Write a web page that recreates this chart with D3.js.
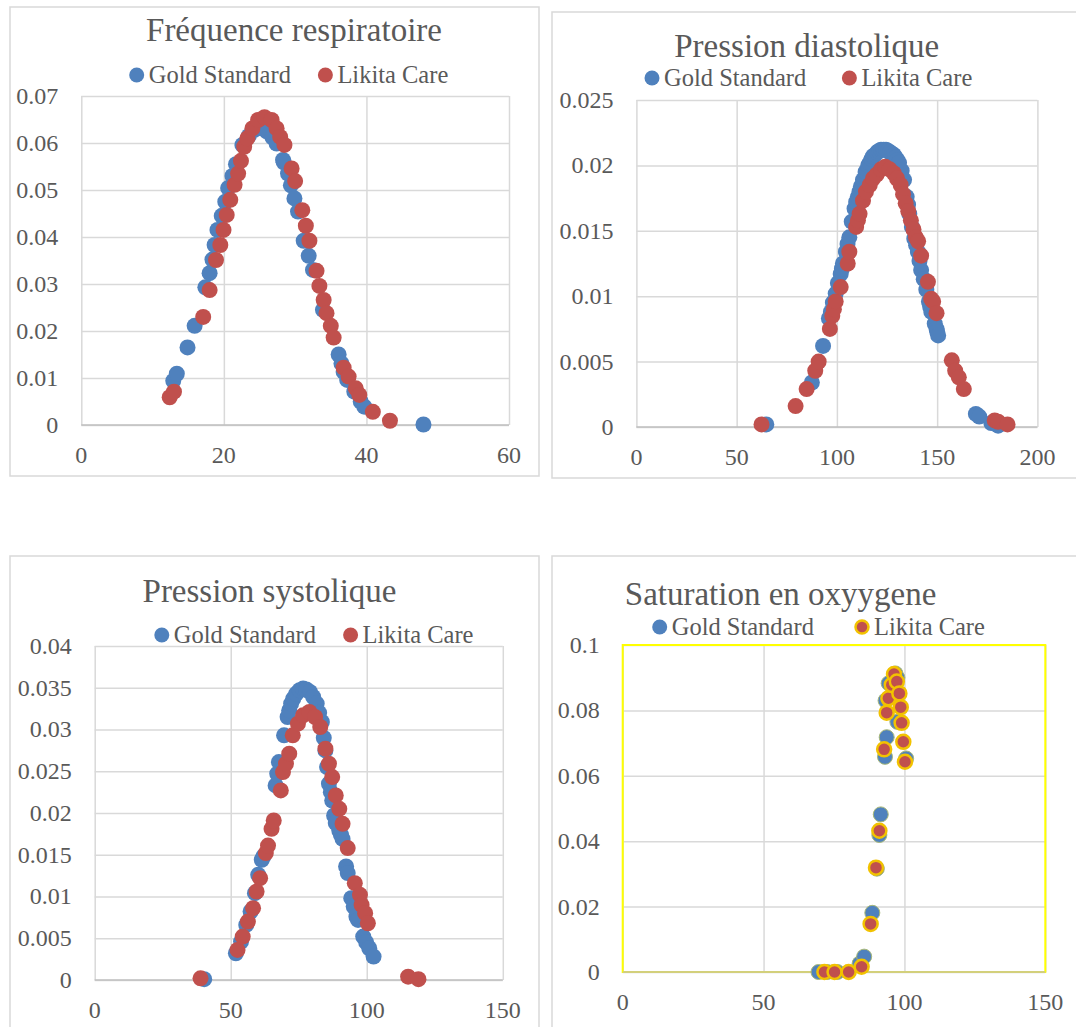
<!DOCTYPE html>
<html>
<head>
<meta charset="utf-8">
<script src="https://cdn.jsdelivr.net/npm/d3@7"></script>
<style>
  body { margin: 0; background: #fff; }
  text { font-family: "Liberation Serif", "DejaVu Serif", serif; fill: #595959; }
</style>
</head>
<body>
<svg width="1076" height="1027"></svg>
<script>
// values: [x, density]
var freqGold = [[12.9,0.0094],[13.4,0.0109],[14.9,0.0165],[15.9,0.0211],[17.4,0.0293],[18.0,0.0323],[18.4,0.0352],[18.7,0.0383],[19.1,0.0415],[19.7,0.0445],[20.2,0.0475],[20.6,0.0504],[21.2,0.053],[21.7,0.0555],[22.6,0.0596],[23.5,0.0615],[24.3,0.0628],[25.2,0.0632],[25.5,0.0631],[26.0,0.0625],[26.8,0.0612],[27.4,0.0599],[28.3,0.0564],[28.4,0.0559],[29.0,0.0535],[29.4,0.051],[29.9,0.0482],[30.4,0.0454],[31.2,0.0392],[31.9,0.036],[32.5,0.033],[33.9,0.0245],[36.1,0.015],[36.5,0.0131],[36.8,0.0113],[37.3,0.0096],[38.3,0.0071],[39.2,0.005],[39.7,0.0039],[48.0,0.0001]];
var freqLikita = [[12.4,0.0059],[13.0,0.0071],[17.1,0.023],[18.0,0.0287],[18.9,0.0351],[19.5,0.0383],[19.95,0.0415],[20.4,0.0447],[20.9,0.0479],[21.5,0.0511],[22.0,0.0535],[22.4,0.0562],[22.85,0.0592],[23.3,0.061],[24.0,0.0631],[24.8,0.0649],[25.7,0.0655],[26.7,0.0649],[27.4,0.0631],[27.9,0.0613],[28.5,0.0596],[29.5,0.0546],[30.0,0.0519],[31.0,0.0457],[31.5,0.0424],[32.0,0.0392],[33.0,0.0328],[33.4,0.0296],[34.0,0.0266],[34.4,0.0238],[35.0,0.0211],[35.4,0.0186],[36.8,0.0122],[37.5,0.0103],[38.5,0.0078],[39.0,0.0064],[40.9,0.0028],[43.3,0.0009]];

var diasGold = [[64.8,0.0002],[87.5,0.0034],[93.1,0.0062],[96,0.0083],[97,0.0088],[98,0.0095],[99.4,0.0102],[100.5,0.011],[101.9,0.0117],[102.5,0.0121],[103,0.0125],[104.5,0.0134],[105.3,0.014],[106.2,0.0145],[107.4,0.0157],[108.8,0.0167],[109.6,0.0172],[110.5,0.0176],[111.3,0.018],[112,0.0184],[113,0.0189],[114.3,0.0195],[115.6,0.02],[116.4,0.0202],[117.3,0.0205],[118,0.0207],[119,0.0208],[120,0.021],[121,0.0211],[122,0.0212],[123.3,0.0212],[124.5,0.0212],[125.5,0.0211],[126.5,0.021],[127.5,0.0209],[128.4,0.0208],[129.3,0.0206],[130.2,0.0204],[131,0.0202],[132.3,0.0196],[133.5,0.0189],[134.8,0.0176],[135.5,0.017],[136.1,0.0163],[137.4,0.0153],[138.6,0.0144],[139.5,0.0139],[140.4,0.0134],[141.2,0.0127],[142,0.012],[143.3,0.0113],[144.6,0.0105],[145.9,0.0096],[146.5,0.0092],[147.1,0.0088],[148.8,0.0079],[149.7,0.0075],[150,0.0073],[150.5,0.007],[169.3,0.001],[171,0.0008],[177,0.0003],[180.4,0.0001]];
var diasLikita = [[62.4,0.0002],[79.4,0.0016],[84.9,0.0029],[89.2,0.0043],[90.9,0.005],[96.5,0.0075],[97.7,0.0085],[98.5,0.009],[99.4,0.0096],[101.9,0.0107],[105.4,0.0125],[106.2,0.0134],[109.6,0.0153],[110.5,0.0158],[111.3,0.0163],[113,0.0173],[114.5,0.018],[116.4,0.0185],[118,0.019],[119.8,0.0193],[122,0.0197],[124.1,0.0199],[126.3,0.0197],[128.4,0.0194],[130,0.019],[131.8,0.0185],[133,0.0178],[134.3,0.0171],[135.6,0.0165],[136.9,0.0158],[138.2,0.0151],[139.4,0.0145],[140.5,0.0142],[142,0.0131],[145.4,0.0111],[147,0.0098],[148,0.0096],[149.7,0.0087],[157.3,0.0051],[159,0.0043],[160.8,0.0038],[163.3,0.0029],[178.7,0.0005],[180.4,0.0004],[185.1,0.0002]];

var sysGold = [[40.25,0.0001],[51.9,0.0032],[53.8,0.0046],[55.7,0.0066],[57.3,0.0082],[58.9,0.0104],[60.1,0.0126],[61.4,0.0144],[62.0,0.0148],[66.5,0.0233],[67.1,0.0247],[67.7,0.0261],[69.6,0.0293],[70.9,0.0315],[71.5,0.0323],[72.2,0.0331],[73.0,0.0337],[74.1,0.0343],[75.3,0.0347],[76.6,0.0349],[77.8,0.0348],[79.1,0.0345],[80.3,0.0339],[81.6,0.0331],[82.5,0.032],[83.5,0.0309],[84.2,0.029],[84.8,0.0275],[85.4,0.0255],[86.1,0.0235],[86.8,0.0225],[87.3,0.0215],[88.0,0.0197],[88.6,0.0188],[89.9,0.0179],[90.5,0.0174],[91.1,0.0169],[92.4,0.0136],[93.0,0.0128],[94.3,0.0098],[95.2,0.0088],[96.2,0.0076],[96.8,0.0072],[98.7,0.0052],[99.8,0.0045],[100.9,0.0038],[102.5,0.0028]];
var sysLikita = [[38.9,0.0002],[52.5,0.0036],[54.4,0.0052],[56.3,0.007],[58.2,0.0086],[59.5,0.0106],[60.8,0.0122],[62.9,0.0152],[63.7,0.0161],[65.0,0.0181],[65.8,0.0191],[68.4,0.0227],[69.2,0.0249],[70.3,0.0259],[71.5,0.0271],[72.8,0.0293],[74.7,0.0307],[76.6,0.0317],[78.9,0.0321],[81.0,0.0315],[82.9,0.0303],[84.8,0.0277],[86.1,0.0259],[87.3,0.0243],[88.6,0.0221],[89.9,0.0205],[91.1,0.0187],[93.0,0.0158],[95.6,0.0116],[97.5,0.0102],[98.1,0.009],[99.4,0.008],[100.4,0.0068],[115.2,0.0004],[119.0,0.0001]];

var oxyGold = [[69.5,0],[72.6,0],[76.2,0],[84.1,0.0026],[85.7,0.0047],[88.6,0.0181],[90.2,0.0316],[91.1,0.0419],[91.6,0.0482],[93.1,0.0658],[93.7,0.0718],[93.3,0.083],[94.4,0.0883],[96.8,0.0913],[97.5,0.09],[97.5,0.0765],[100.6,0.0653]];
var oxyLikita = [[71.6,0],[75.2,0],[80.2,0],[84.8,0.0016],[88.0,0.0147],[89.9,0.0319],[91.1,0.0432],[92.8,0.0681],[93.7,0.0793],[94.3,0.0837],[95.5,0.0878],[96.3,0.0911],[97.3,0.0888],[98.2,0.0852],[98.7,0.081],[99.0,0.0762],[99.6,0.0704],[100.2,0.0643]];

var seriesNames = ["Gold Standard", "Likita Care"];
var titles = ["Fréquence respiratoire", "Pression diastolique", "Pression systolique", "Saturation en oxyygene"];

var freqXTicks = [0, 20, 40, 60], freqYTicks = [0, 0.01, 0.02, 0.03, 0.04, 0.05, 0.06, 0.07];
var diasXTicks = [0, 50, 100, 150, 200], diasYTicks = [0, 0.005, 0.01, 0.015, 0.02, 0.025];
var sysXTicks = [0, 50, 100, 150], sysYTicks = [0, 0.005, 0.01, 0.015, 0.02, 0.025, 0.03, 0.035, 0.04];
var oxyXTicks = [0, 50, 100, 150], oxyYTicks = [0, 0.02, 0.04, 0.06, 0.08, 0.1];

var blue = "#4f81bd", red = "#c0504d";
var svg = d3.select("svg");

function panel(p) {
  var g = svg.append("g");
  g.append("rect").attr("x", p.box[0]).attr("y", p.box[1])
    .attr("width", p.box[2]).attr("height", p.box[3])
    .attr("fill", "#fff").attr("stroke", "#d9d9d9").attr("stroke-width", 1.5);

  var x = d3.scaleLinear().domain([p.xt[0], p.xt[p.xt.length - 1]]).range([p.left, p.right]);
  var y = d3.scaleLinear().domain([0, p.yt[p.yt.length - 1]]).range([p.bottom, p.top]);

  // gridlines
  g.append("g").attr("transform", "translate(0," + p.bottom + ")")
    .call(d3.axisBottom(x).tickValues(p.xt).tickSize(p.top - p.bottom).tickFormat(""))
    .call(s => s.select(".domain").remove())
    .selectAll("line").attr("stroke", "#d9d9d9").attr("stroke-width", 1.5);
  g.append("g").attr("transform", "translate(" + p.left + ",0)")
    .call(d3.axisLeft(y).tickValues(p.yt).tickSize(p.left - p.right).tickFormat(""))
    .call(s => s.select(".domain").remove())
    .selectAll("line").attr("stroke", "#d9d9d9").attr("stroke-width", 1.5);

  if (p.yellow) {
    g.append("rect").attr("x", p.left).attr("y", p.top)
      .attr("width", p.right - p.left).attr("height", p.bottom - p.top)
      .attr("fill", "none").attr("stroke", "#ffff00").attr("stroke-width", 2);
  }
  g.append("line").attr("x1", p.left).attr("x2", p.right)
    .attr("y1", p.bottom).attr("y2", p.bottom)
    .attr("stroke", p.yellow ? "#c4c1a4" : "#bfbfbf").attr("stroke-width", 1.5);

  // tick labels
  g.selectAll(".xl").data(p.xt).enter().append("text")
    .attr("x", d => x(d)).attr("y", p.xBase)
    .attr("text-anchor", "middle").attr("font-size", 24).text(d => d);
  g.selectAll(".yl").data(p.yt).enter().append("text")
    .attr("x", p.left - 23).attr("y", d => y(d)).attr("dy", "0.33em")
    .attr("text-anchor", "end").attr("font-size", 24).text(d => +d.toFixed(3));

  // markers
  var r = 8;
  g.append("g").selectAll("circle").data(p.gold).enter().append("circle")
    .attr("cx", d => x(d[0])).attr("cy", d => y(d[1])).attr("r", p.yellow ? 7.5 : r)
    .attr("fill", blue)
    .attr("stroke", p.yellow ? "#a8b878" : "none").attr("stroke-width", p.yellow ? 1 : 0);
  g.append("g").selectAll("circle").data(p.likita).enter().append("circle")
    .attr("cx", d => x(d[0])).attr("cy", d => y(d[1])).attr("r", p.yellow ? 7 : r)
    .attr("fill", red)
    .attr("stroke", p.yellow ? "#f2c200" : "none").attr("stroke-width", p.yellow ? 2.5 : 0);

  // title
  g.append("text").attr("x", p.titleX).attr("y", p.titleY)
    .attr("text-anchor", p.titleAnchor).attr("font-size", 33).text(p.title);

  // legend
  var leg = [[p.leg[0], blue], [p.leg[1], red]];
  leg.forEach(function(l, i) {
    g.append("circle").attr("cx", l[0]).attr("cy", p.legY).attr("r", i == 1 && p.yellow ? 6.5 : 7.5)
      .attr("fill", l[1])
      .attr("stroke", i == 1 && p.yellow ? "#f2c200" : "none").attr("stroke-width", 2.5);
    g.append("text").attr("x", l[0] + 12).attr("y", p.legY).attr("dy", "0.34em")
      .attr("font-size", 24.5).text(seriesNames[i]);
  });
}

panel({box: [10, 7, 529, 469], left: 81.3, right: 509, top: 96, bottom: 425,
  xt: freqXTicks, yt: freqYTicks, gold: freqGold, likita: freqLikita, xBase: 463,
  title: titles[0], titleX: 294, titleY: 41, titleAnchor: "middle", leg: [136.7, 325.4], legY: 75});
panel({box: [552, 12, 540, 466], left: 636.4, right: 1037.4, top: 100, bottom: 427,
  xt: diasXTicks, yt: diasYTicks, gold: diasGold, likita: diasLikita, xBase: 465,
  title: titles[1], titleX: 806.7, titleY: 57, titleAnchor: "middle", leg: [652, 849.4], legY: 78});
panel({box: [10, 556, 529, 490], left: 94.7, right: 502.8, top: 646, bottom: 980,
  xt: sysXTicks, yt: sysYTicks, gold: sysGold, likita: sysLikita, xBase: 1018,
  title: titles[2], titleX: 269.5, titleY: 602, titleAnchor: "middle", leg: [161.8, 350.6], legY: 635});
panel({box: [552, 556, 540, 490], left: 622.7, right: 1045.3, top: 645, bottom: 972,
  xt: oxyXTicks, yt: oxyYTicks, gold: oxyGold, likita: oxyLikita, xBase: 1010, yellow: true,
  title: titles[3], titleX: 624.8, titleY: 605, titleAnchor: "start", leg: [659.7, 862], legY: 627});
</script>
</body>
</html>
